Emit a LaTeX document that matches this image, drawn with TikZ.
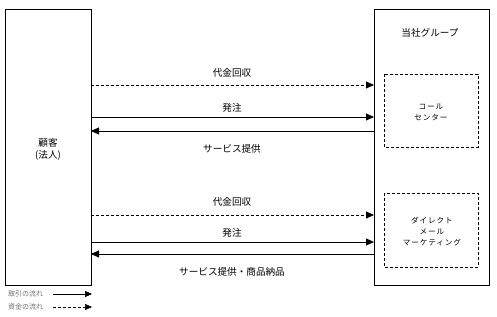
\documentclass[tikz,border=0pt]{standalone}
\usepackage{fontspec}
\newfontfamily\jp{Noto Sans CJK JP}
\newfontfamily\jpw[LetterSpace=12]{Noto Sans CJK JP}
\usetikzlibrary{arrows.meta}
\begin{document}
\begin{tikzpicture}[x=1pt,y=-1pt,
  box/.style={draw=black,line width=0.9pt},
  inbox/.style={draw=black,line width=0.8pt,dash pattern=on 3pt off 2pt},
  flow/.style={draw=black,line width=0.9pt,-{Triangle[length=8pt,width=7pt]}},
  money/.style={flow,dash pattern=on 3pt off 2pt},
  lbl/.style={font=\jp\fontsize{9.6}{11}\selectfont,inner sep=0pt},
  small/.style={font=\jpw\fontsize{7.6}{11}\selectfont,inner sep=0pt,align=center},
  legend/.style={font=\jp\fontsize{7}{8}\selectfont,text=black!55,inner sep=0pt,anchor=west}]
\useasboundingbox (0,0) rectangle (497,316);
\fill[white] (0,0) rectangle (497,316);
% main boxes
\draw[box] (5,9) rectangle (91,285);
\draw[box] (374,9) rectangle (489,285);
\coordinate (L1) at (91,85); \coordinate (R1) at (374,85);
\coordinate (L2) at (91,117); \coordinate (R2) at (374,117);
\coordinate (L3) at (91,131); \coordinate (R3) at (374,131);
\coordinate (L4) at (91,215); \coordinate (R4) at (374,215);
\coordinate (L5) at (91,242); \coordinate (R5) at (374,242);
\coordinate (L6) at (91,254); \coordinate (R6) at (374,254);
\node[lbl,align=center,font=\jp\fontsize{9.6}{12}\selectfont] (kokyaku) at (48,149) {顧客\\(法人)};
\node[lbl] (group) at (430,33) {当社グループ};
% inner boxes
\draw[inbox] (384,74) rectangle (478,147);
\draw[inbox] (384,193) rectangle (478,267);
\node[small] (cc) at (431,112) {コール\\センター};
\node[small] (dm) at (432,232) {ダイレクト\\メール\\マーケティング};
% arrows
\draw[money] (L1) -- (R1);
\draw[flow] (L2) -- (R2);
\draw[flow] (R3) -- (L3);
\draw[money] (L4) -- (R4);
\draw[flow] (L5) -- (R5);
\draw[flow] (R6) -- (L6);
\node[lbl] (t1) at (232,73) {代金回収};
\node[lbl] (t2) at (232,108) {発注};
\node[lbl] (t3) at (232,149) {サービス提供};
\node[lbl] (t4) at (232,202) {代金回収};
\node[lbl] (t5) at (232,233) {発注};
\node[lbl] (t6) at (232,272) {サービス提供・商品納品};
% legend
\node[legend] (lg1) at (8,294) {取引の流れ};
\node[legend] (lg2) at (8,307) {資金の流れ};
\coordinate (a1) at (53,294); \coordinate (b1) at (92,294);
\coordinate (a2) at (53,307); \coordinate (b2) at (92,307);
\draw[flow,line width=0.7pt,-{Triangle[length=7pt,width=6pt]}] (a1) -- (b1);
\draw[money,line width=0.7pt,-{Triangle[length=7pt,width=6pt]}] (a2) -- (b2);
\end{tikzpicture}
\end{document}
